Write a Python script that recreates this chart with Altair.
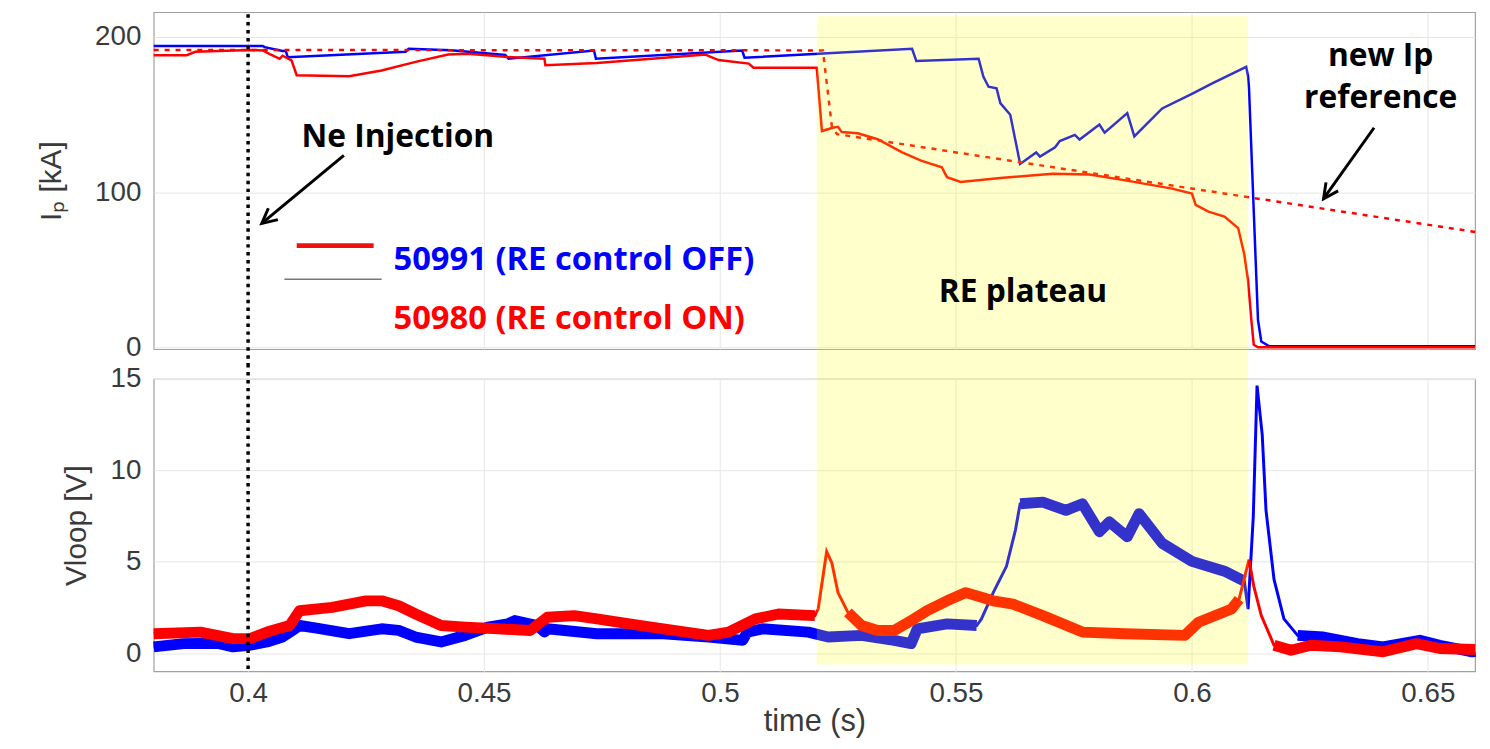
import altair as alt
import pandas as pd

# ---------------- data ----------------
# Plasma current Ip [kA], shot 50991 (RE control OFF, blue)
ip_blue_t = [0.3800, 0.4031, 0.4035, 0.4073, 0.4080, 0.4084, 0.4334, 0.4340, 0.4430, 0.4545,
             0.4552, 0.4733, 0.4737, 0.5047, 0.5052, 0.5407, 0.5416, 0.5548, 0.5558, 0.5569,
             0.5586, 0.5594, 0.5615, 0.5636, 0.5670, 0.5678, 0.5710, 0.5720, 0.5752, 0.5762,
             0.5804, 0.5815, 0.5863, 0.5878, 0.5937, 0.6000, 0.6042, 0.6115, 0.6119, 0.6121,
             0.6130, 0.6140, 0.6147, 0.6163, 0.6600]
ip_blue = [194.3, 194.3, 193.5, 191.0, 191.0, 187.0, 190.5, 192.4, 191.5, 188.5,
           186.0, 191.3, 186.0, 191.3, 186.7, 192.4, 184.6, 186.0, 174.6, 168.0,
           167.0, 157.5, 150.0, 118.3, 125.7, 123.0, 129.0, 133.0, 137.0, 134.0,
           143.7, 138.4, 151.0, 136.0, 154.0, 163.4, 170.0, 180.8, 174.6, 167.0,
           96.0, 17.8, 4.0, 1.0, 1.0]

# Ip [kA], shot 50980 (RE control ON, red)
ip_red_t = [0.3800, 0.3870, 0.3888, 0.4004, 0.4031, 0.4046, 0.4067, 0.4073, 0.4092, 0.4103,
            0.4214, 0.4283, 0.4355, 0.4424, 0.4466, 0.4550, 0.4628, 0.4630, 0.4739, 0.4970,
            0.4974, 0.4997, 0.5061, 0.5071, 0.5205, 0.5216, 0.5239, 0.5250, 0.5258, 0.5292,
            0.5334, 0.5386, 0.5426, 0.5470, 0.5481, 0.5510, 0.5594, 0.5705, 0.5783, 0.5859,
            0.5958, 0.6000, 0.6008, 0.6035, 0.6069, 0.6098, 0.6111, 0.6119, 0.6126, 0.6131,
            0.6140, 0.6600]
ip_red = [188.3, 188.3, 190.5, 191.7, 191.4, 189.0, 186.0, 188.0, 185.0, 175.4,
          174.8, 178.5, 184.0, 188.8, 189.2, 187.1, 186.0, 181.8, 183.3, 188.8,
          188.0, 185.2, 182.9, 180.3, 180.3, 139.5, 141.6, 142.2, 138.8, 138.0,
          134.2, 125.7, 120.4, 116.2, 109.8, 106.7, 109.2, 112.0, 111.5, 107.7,
          102.4, 99.2, 91.9, 87.6, 84.4, 77.0, 60.0, 43.0, 17.8, 1.9,
          0.3, 0.3]

# new Ip reference (red dashed)
ip_ref_t = [0.3800, 0.5218, 0.5237, 0.5248, 0.6600]
ip_ref = [191.7, 191.4, 142.6, 137.5, 74.5]

# Loop voltage [V], shot 50991 (blue)
vl_blue_t = [0.3800, 0.3863, 0.3934, 0.3968, 0.4004, 0.4040, 0.4073, 0.4094, 0.4109, 0.4145,
             0.4214, 0.4283, 0.4319, 0.4355, 0.4409, 0.4460, 0.4508, 0.4550, 0.4565, 0.4613,
             0.4628, 0.4634, 0.4739, 0.4880, 0.4976, 0.5048, 0.5058, 0.5090, 0.5187, 0.5229,
             0.5300, 0.5369, 0.5405, 0.5418, 0.5481, 0.5544, 0.5554, 0.5579, 0.5607, 0.5626,
             0.5636, 0.5684, 0.5733, 0.5768, 0.5804, 0.5825, 0.5863, 0.5888, 0.5937, 0.6000,
             0.6069, 0.6111, 0.6119, 0.6130, 0.6138, 0.6149, 0.6157, 0.6174, 0.6195, 0.6224,
             0.6279, 0.6351, 0.6405, 0.6483, 0.6525, 0.6594, 0.6600]
vl_blue = [0.34, 0.52, 0.54, 0.34, 0.43, 0.61, 0.88, 1.24, 1.51, 1.37,
           1.06, 1.33, 1.24, 0.88, 0.61, 0.97, 1.42, 1.60, 1.78, 1.51,
           1.15, 1.33, 1.06, 1.06, 0.88, 0.70, 1.15, 1.33, 1.15, 0.88,
           0.97, 0.70, 0.52, 1.33, 1.60, 1.51, 1.87, 3.31, 4.75, 6.73,
           8.17, 8.26, 7.81, 8.17, 6.64, 7.18, 6.37, 7.63, 6.01, 5.02,
           4.48, 3.94, 2.41, 7.45, 14.64, 11.94, 7.81, 4.03, 1.87, 0.97,
           0.88, 0.52, 0.34, 0.70, 0.43, 0.07, 0.10]

# Loop voltage [V], shot 50980 (red)
vl_red_t = [0.3800, 0.3899, 0.3968, 0.4004, 0.4040, 0.4088, 0.4109, 0.4178, 0.4250, 0.4283,
            0.4319, 0.4355, 0.4409, 0.4460, 0.4529, 0.4598, 0.4634, 0.4691, 0.4739, 0.4808,
            0.4880, 0.4976, 0.5018, 0.5075, 0.5124, 0.5201, 0.5208, 0.5226, 0.5237, 0.5250,
            0.5271, 0.5300, 0.5334, 0.5369, 0.5411, 0.5439, 0.5481, 0.5521, 0.5579, 0.5621,
            0.5684, 0.5768, 0.5859, 0.5985, 0.6014, 0.6084, 0.6100, 0.6121, 0.6131, 0.6147,
            0.6174, 0.6210, 0.6252, 0.6315, 0.6405, 0.6476, 0.6525, 0.6600]
vl_red = [1.06, 1.15, 0.79, 0.79, 1.15, 1.51, 2.32, 2.50, 2.86, 2.86,
          2.59, 2.14, 1.51, 1.42, 1.33, 1.24, 1.96, 2.05, 1.87, 1.60,
          1.33, 0.97, 1.15, 1.87, 2.14, 2.05, 2.41, 5.56, 4.93, 3.31,
          2.23, 1.51, 1.24, 1.24, 1.87, 2.32, 2.86, 3.31, 2.86, 2.68,
          2.05, 1.15, 1.06, 0.97, 1.69, 2.41, 2.95, 5.11, 3.67, 2.05,
          0.43, 0.16, 0.43, 0.34, 0.07, 0.52, 0.25, 0.20]

# events
plateau_start = [0.5205]
plateau_end = [0.6119]
ne_injection_time = [0.4000]

# legend entries
legend_labels = ["50991 (RE control OFF)", "50980 (RE control ON)"]
legend_colors = ["#0000ff", "#ff0000"]

# annotation texts and their anchor points (data coordinates of the Ip panel)
notes = ["Ne Injection", "new Ip", "reference", "RE plateau"]
notes_t = [0.4113, 0.6400, 0.6400, 0.5642]
notes_v = [135.5, 188.0, 160.8, 35.8]
notes_align = ["left", "center", "center", "center"]

# ---------------- layout constants ----------------
W = 1333
H_TOP = 340
H_BOT = 295
GAP = 30

TEXT_FONT = "Open Sans"
AX_FONT = "Liberation Sans"


def frame(ts, vs):
    return pd.DataFrame({"t": ts, "v": vs})


xscale = alt.Scale(domain=[0.38, 0.66], nice=False, zero=False)
ip_scale = alt.Scale(domain=[-1, 216], nice=False, zero=False)
vl_scale = alt.Scale(domain=[-1, 15], nice=False, zero=False)

x_top = alt.X("t:Q", scale=xscale, title=None,
              axis=alt.Axis(labels=False, values=[0.4, 0.45, 0.5, 0.55, 0.6, 0.65]))
y_top = alt.Y("v:Q", scale=ip_scale, title="Iₚ [kA]",
              axis=alt.Axis(values=[0, 100, 200], titlePadding=28))
x_bot = alt.X("t:Q", scale=xscale, title="time (s)",
              axis=alt.Axis(values=[0.4, 0.45, 0.5, 0.55, 0.6, 0.65], format="~g",
                            labelPadding=8, titlePadding=0, titleFontSize=31))
y_bot = alt.Y("v:Q", scale=vl_scale, title="Vloop [V]",
              axis=alt.Axis(values=[0, 5, 10, 15], titlePadding=19))

# ---------------- top panel: Ip ----------------
blue_ip = alt.Chart(frame(ip_blue_t, ip_blue)).mark_line(
    color="#0000ff", strokeWidth=2.5).encode(x=x_top, y=y_top)
red_ip = alt.Chart(frame(ip_red_t, ip_red)).mark_line(
    color="#ff0000", strokeWidth=2.5).encode(x=x_top, y=y_top)
ref_ip = alt.Chart(frame(ip_ref_t, ip_ref)).mark_line(
    color="#ff0000", strokeWidth=2.5, strokeDash=[5, 6]).encode(x=x_top, y=y_top)

band_df = pd.DataFrame({"t": plateau_start, "t2": plateau_end})
yellow_top = alt.Chart(band_df).mark_rect(color="#ffff00", opacity=0.2).encode(
    x=alt.X("t:Q", scale=xscale), x2="t2:Q",
    y=alt.value(4), y2=alt.value(H_TOP + GAP // 2))

inj_df = pd.DataFrame({"t": ne_injection_time})
inj_top = alt.Chart(inj_df).mark_rule(
    color="black", strokeWidth=3.5, strokeDash=[3.5, 4.5]).encode(
    x=alt.X("t:Q", scale=xscale), y=alt.value(2), y2=alt.value(H_TOP + GAP // 2))

# legend sample lines (as in the reference figure)
leg_line_df = pd.DataFrame({"t": [0.4103], "t2": [0.4266], "v": [65.7]})
leg_line = alt.Chart(leg_line_df).mark_rule(color="#ee1111", strokeWidth=5).encode(
    x=x_top, x2="t2:Q", y=y_top)
leg_line2_df = pd.DataFrame({"t": [0.4077], "t2": [0.4283], "v": [44.1]})
leg_line2 = alt.Chart(leg_line2_df).mark_rule(color="#777777", strokeWidth=1.5).encode(
    x=x_top, x2="t2:Q", y=y_top)

leg_df = pd.DataFrame({"t": [0.4308, 0.4308], "v": [56.2, 18.1],
                       "label": legend_labels, "col": legend_colors})
leg_text = alt.Chart(leg_df).mark_text(
    align="left", baseline="middle", font=TEXT_FONT, fontSize=33, fontWeight="bold").encode(
    x=x_top, y=y_top, text="label:N",
    color=alt.Color("col:N", scale=None))

notes_df = pd.DataFrame({"t": notes_t, "v": notes_v, "label": notes, "al": notes_align})
notes_left = alt.Chart(notes_df[notes_df["al"] == "left"]).mark_text(
    align="left", baseline="middle", font=TEXT_FONT, fontSize=32, fontWeight="bold",
    color="black").encode(x=x_top, y=y_top, text="label:N")
notes_center = alt.Chart(notes_df[notes_df["al"] == "center"]).mark_text(
    align="center", baseline="middle", font=TEXT_FONT, fontSize=32, fontWeight="bold",
    color="black").encode(x=x_top, y=y_top, text="label:N")

# arrows (shaft + open head)
arrow_df = pd.DataFrame({"t": [0.4203, 0.6386], "v": [123.8, 141.6],
                         "t2": [0.4029, 0.6279], "v2": [80.0, 95.9]})
shafts = alt.Chart(arrow_df).mark_rule(color="black", strokeWidth=3).encode(
    x=x_top, x2="t2:Q", y=y_top, y2="v2:Q")
HEAD = "M -0.45 0.9 L 0 0 L 0.45 0.9"
head1 = alt.Chart(pd.DataFrame({"t": [0.4029], "v": [80.0]})).mark_point(
    shape=HEAD, size=1100, angle=230, filled=False, color="black", strokeWidth=3,
    opacity=1).encode(x=x_top, y=y_top)
head2 = alt.Chart(pd.DataFrame({"t": [0.6279], "v": [95.9]})).mark_point(
    shape=HEAD, size=1100, angle=215, filled=False, color="black", strokeWidth=3,
    opacity=1).encode(x=x_top, y=y_top)

top = alt.layer(blue_ip, red_ip, ref_ip, yellow_top, inj_top, leg_line, leg_line2,
                leg_text, notes_left, notes_center, shafts, head1, head2).properties(
    width=W, height=H_TOP)

# ---------------- bottom panel: Vloop ----------------
def vloop_layers(ts, vs, color, thin_windows):
    df = frame(ts, vs)
    (a, b), (c, d) = thin_windows
    seg_expr = (f"datum.t < {a} ? 0 : (datum.t <= {b} ? -1 : "
                f"(datum.t < {c} ? 1 : (datum.t <= {d} ? -1 : 2)))")
    thick = alt.Chart(df).transform_calculate(seg=seg_expr).transform_filter(
        "datum.seg >= 0").mark_line(color=color, strokeWidth=11, strokeCap="butt",
                                    strokeJoin="round").encode(
        x=x_bot, y=y_bot, detail="seg:N")
    thin = alt.Chart(df).mark_line(color=color, strokeWidth=3).encode(x=x_bot, y=y_bot)
    return [thick, thin]


blue_v = vloop_layers(vl_blue_t, vl_blue, "#0000ff", [(0.5550, 0.5630), (0.6115, 0.6200)])
red_v = vloop_layers(vl_red_t, vl_red, "#ff0000", [(0.5205, 0.5265), (0.6105, 0.6165)])

yellow_bot = alt.Chart(band_df).mark_rect(color="#ffff00", opacity=0.2).encode(
    x=alt.X("t:Q", scale=xscale), x2="t2:Q",
    y=alt.value(-(GAP - GAP // 2)), y2=alt.value(H_BOT - 7))
inj_bot = alt.Chart(inj_df).mark_rule(
    color="black", strokeWidth=3.5, strokeDash=[3.5, 4.5]).encode(
    x=alt.X("t:Q", scale=xscale), y=alt.value(-(GAP - GAP // 2)), y2=alt.value(H_BOT - 2))

bottom = alt.layer(*blue_v, *red_v, yellow_bot, inj_bot).properties(width=W, height=H_BOT)

chart = alt.vconcat(top, bottom, spacing=GAP, bounds="flush").properties(
    padding={"left": 28, "top": 0, "right": 0, "bottom": 0}
).configure_view(
    stroke="#a0a0a0", strokeWidth=1.2
).configure_axis(
    labelFont=AX_FONT, labelFontSize=28, labelColor="#3a3a3a",
    titleFont=AX_FONT, titleFontSize=30, titleFontWeight="normal", titleColor="#3a3a3a",
    grid=True, gridColor="#e6e6e6", gridWidth=1, domain=False, ticks=False, labelPadding=13
)

chart.save("out.html", embed_options={"renderer": "svg", "actions": False})
